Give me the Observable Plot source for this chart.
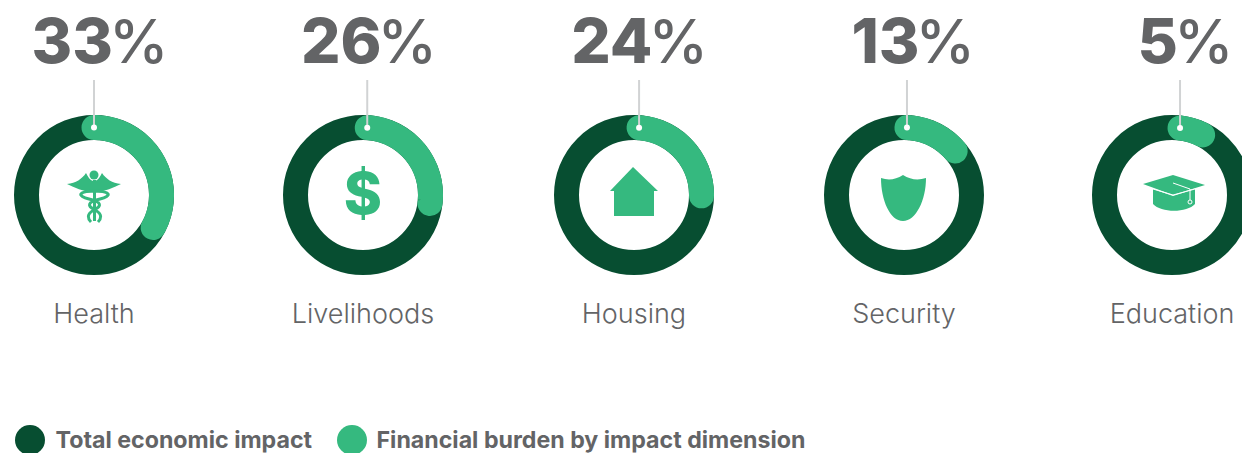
<!DOCTYPE html>
<html>
<head>
<meta charset="utf-8">
<style>html,body{margin:0;padding:0;background:#fff}svg{display:block}</style>
<script src="https://cdn.jsdelivr.net/npm/d3@7"></script>
<script src="https://cdn.jsdelivr.net/npm/@observablehq/plot@0.6"></script>
</head>
<body>
<script>
// Data
const categories = ["Health", "Livelihoods", "Housing", "Security", "Education"];
const burdenPercent = [33, 26, 24, 13, 5];
const arcStartPercent = [0, 1, 1.2, 0.7, 1.9];
const arcEndPercent = [33, 27, 25.2, 13.7, 7.5];
const legendLabels = ["Total economic impact", "Financial burden by impact dimension"];

// Layout
const W = 1242, H = 453;
const centerX = [93.5, 362.5, 633.5, 903.5, 1171.5];
const splitX = [111.5, 380, 651, 918, 1176.5];
const centerY = 194.5, R = 67.5, ringWidth = 25;
const dark = "#074e31", light = "#35b97f", grey = "#636466", font = "Inter";
const legendDotX = [29.5, 351.5], legendTextX = [55, 376], legendY = 439.5;

const rows = categories.map((name, i) => ({
  name, pct: burdenPercent[i], cx: centerX[i], sx: splitX[i],
  lx: centerX[i] + R * Math.sin(arcStartPercent[i] * 0.02 * Math.PI),
  ly: centerY - R * Math.cos(arcStartPercent[i] * 0.02 * Math.PI)
}));
const arcs = rows.flatMap((d, i) => {
  const a0 = arcStartPercent[i], a1 = arcEndPercent[i];
  return d3.range(0, 61).map(k => {
    const a = (a0 + (a1 - a0) * k / 60) * 0.02 * Math.PI;
    return {name: d.name, x: d.cx + R * Math.sin(a), y: centerY - R * Math.cos(a)};
  });
});
const legend = legendLabels.map((label, i) => ({label, dx: legendDotX[i], tx: legendTextX[i], color: i ? light : dark}));

// Icons (outlines relative to each ring's centre)
const icon = draw => ({draw});
const house = icon(c => {
  c.moveTo(-1,-28); c.lineTo(24,-4); c.lineTo(20,-4); c.lineTo(20,21); c.lineTo(-20,21); c.lineTo(-20,-4); c.lineTo(-24,-4); c.closePath();
});
const shield = icon(c => {
  c.moveTo(-23,-17); c.quadraticCurveTo(-12,-13,-1,-20); c.quadraticCurveTo(10,-13,22,-17);
  c.bezierCurveTo(22,5,12,26,-1,26); c.bezierCurveTo(-14,26,-23,5,-23,-17); c.closePath();
});
const capTop = icon(c => { c.moveTo(-29,-11); c.lineTo(1,-20); c.lineTo(33,-10); c.lineTo(1,0); c.closePath(); });
const capBase = icon(c => {
  c.moveTo(-19,-6); c.lineTo(1,1); c.lineTo(23,-6); c.lineTo(23,9);
  c.bezierCurveTo(15,18,-11,18,-19,9); c.closePath();
});
const capLine = icon(c => {
  c.moveTo(-19,-6); c.lineTo(1,0); c.lineTo(23,-6);
  c.moveTo(1,-12); c.lineTo(18,-6); c.lineTo(18,5); c.moveTo(20,7); c.arc(18,7,2,0,2*Math.PI);
});
const wings = icon(c => {
  c.moveTo(-27,-11); c.bezierCurveTo(-18,-12,-12,-16,-8,-22); c.bezierCurveTo(-6,-18,-4,-15,-1,-14);
  c.lineTo(1,-14); c.bezierCurveTo(4,-15,6,-18,8,-22); c.bezierCurveTo(12,-16,18,-12,27,-11);
  c.bezierCurveTo(19,-7,11,-4,3,-3); c.lineTo(-3,-3); c.bezierCurveTo(-11,-4,-19,-7,-27,-11); c.closePath();
});
const staff = icon(c => { c.moveTo(-1,-15); c.lineTo(2,-15); c.lineTo(2,26); c.lineTo(-1,26); c.closePath(); });
const snakes = icon(c => {
  c.moveTo(3,-4); c.bezierCurveTo(-17,-4,-17,1,-5,4); c.bezierCurveTo(8,7,8,11,0,15); c.bezierCurveTo(-8,19,-6,24,-3,27);
  c.moveTo(-2,-4); c.bezierCurveTo(18,-4,18,1,6,4); c.bezierCurveTo(-7,7,-7,11,1,15); c.bezierCurveTo(9,19,7,24,4,27);
});

const atRow = i => [rows[i]];
const iconMark = (i, symbol, opts) => Plot.dot(atRow(i), {x: "cx", y: () => centerY, symbol, r: 10, fill: light, stroke: "none", ...opts});

const chart = Plot.plot({
  width: W, height: H, margin: 0,
  x: {domain: [0, W], range: [0, W], axis: null},
  y: {domain: [0, H], range: [0, H], axis: null},
  style: {background: "#fff"},
  marks: [
    Plot.dot(rows, {x: "cx", y: () => centerY, r: R, fill: "none", stroke: dark, strokeWidth: ringWidth}),
    Plot.line(arcs, {x: "x", y: "y", z: "name", stroke: light, strokeWidth: ringWidth, strokeLinecap: "round", strokeLinejoin: "round"}),
    Plot.ruleX(rows, {x: "lx", y1: () => 80, y2: "ly", stroke: "#d1d3d4", strokeWidth: 2}),
    Plot.dot(rows, {x: "lx", y: "ly", r: 3, fill: "#fff", stroke: "none"}),
    Plot.text(rows, {x: d => d.sx + 1, y: () => 43, text: d => String(d.pct), textAnchor: "end", fontFamily: font, fontWeight: 800, fontSize: 62, fill: grey}),
    Plot.text(rows, {x: d => d.sx - 3, y: () => 43, text: () => "%", textAnchor: "start", fontFamily: font, fontWeight: 500, fontSize: 60, fill: grey}),
    Plot.text(rows, {x: "cx", y: () => 314, text: "name", fontFamily: font, fontWeight: 300, fontSize: 27, fill: grey}),
    iconMark(0, wings),
    Plot.dot(atRow(0), {x: "cx", y: () => centerY - 20, r: 4.5, fill: light, stroke: "none"}),
    iconMark(0, staff),
    iconMark(0, snakes, {fill: "none", stroke: light, strokeWidth: 3}),
    Plot.text(atRow(1), {x: "cx", y: () => 195, text: () => "$", fontFamily: font, fontWeight: 800, fontSize: 58, fill: light}),
    iconMark(2, house),
    iconMark(3, shield),
    iconMark(4, capBase),
    iconMark(4, capTop),
    iconMark(4, capLine, {fill: "none", stroke: "#fff", strokeWidth: 1}),
    Plot.dot(legend, {x: "dx", y: () => legendY, r: 15, fill: "color", stroke: "none"}),
    Plot.text(legend, {x: "tx", y: () => legendY + 0.5, text: "label", textAnchor: "start", fontFamily: font, fontWeight: 700, fontSize: 23.2, fill: grey})
  ]
});
document.body.appendChild(chart);
</script>
</body>
</html>
